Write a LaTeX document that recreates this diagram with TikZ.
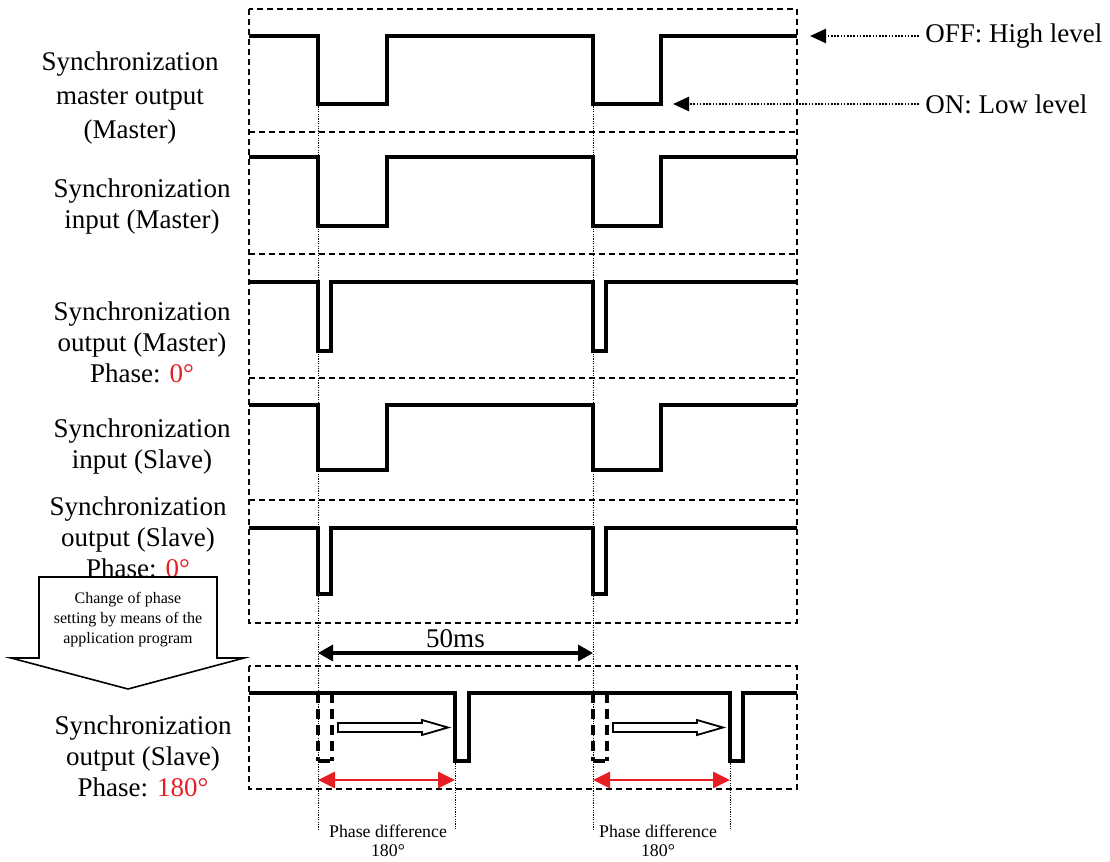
\documentclass[tikz,border=0pt]{standalone}
\usepackage{fontspec}
\setmainfont{Liberation Serif}
\usepackage{tikz}
\usetikzlibrary{positioning,arrows.meta}
\definecolor{phasered}{RGB}{230,30,36}

\begin{document}
\begin{tikzpicture}[
      x=0.5pt, y=-0.5pt,
      siglabel/.style={
        align=center,
        inner sep=0pt,
        font=\fontsize{13.5}{15.5}\selectfont
      },
      signal/.style={line width=1.6pt},
      ghost/.style={line width=1.6pt, dash pattern=on 5pt off 3pt},
      frame/.style={line width=0.9pt, dash pattern=on 3pt off 2pt},
      guide/.style={line width=0.5pt, dash pattern=on 0.6pt off 0.6pt},
      pointer/.style={line width=1.3pt, dash pattern=on 0.8pt off 0.8pt,
        -{Triangle[length=8pt,width=7pt]}},
      span/.style={line width=1.6pt,
        {Triangle[length=7.5pt,width=8pt]}-{Triangle[length=7.5pt,width=8pt]}},
      phaseshift/.style={line width=1.4pt, draw=phasered,
        {Triangle[length=8.5pt,width=8pt,fill=phasered]}-{Triangle[length=8.5pt,width=8pt,fill=phasered]}},
      hollow/.style={line width=0.9pt, fill=white},
      smalltext/.style={align=center, inner sep=0pt,
        font=\fontsize{8.9}{11}\selectfont}
    ]
    \useasboundingbox (0,0) rectangle (1110,862);
    %% Frames
    \draw[frame] (249,9) rectangle (797,623);
    \foreach \y in {132,254,378,500}
      \draw[frame] (249,\y) -- (797,\y);
    \draw[frame] (249,666) rectangle (797,789);
    %% Guides
    \foreach \x in {318,593}
      \draw[guide] (\x,104) -- (\x,829);
    \foreach \x in {455,730}
      \draw[guide] (\x,761) -- (\x,829);
    %% Signals
    \foreach \hi/\lo/\ra/\rb in {36/104/387/661, 157/226/387/661,
        282/351/331/606, 405/470/387/661, 528/594/331/606}
      \draw[signal] (249,\hi) -- (318,\hi) -- (318,\lo) -- (\ra,\lo)
        -- (\ra,\hi) -- (593,\hi) -- (593,\lo) -- (\rb,\lo) -- (\rb,\hi)
        -- (797,\hi);
    %% Shifted output
    \draw[signal] (249,693) -- (455,693) -- (455,761) -- (469,761)
      -- (469,693) -- (730,693) -- (730,761) -- (743,761) -- (743,693)
      -- (797,693);
    \foreach \x in {318,593} {
      \draw[ghost] (\x,693) -- (\x,761);
      \draw[ghost] (\x+14,693) -- (\x+14,761);
      \draw[signal] (\x,761) -- (\x+12,761);
      \draw[hollow] (\x+20,723) -- (\x+104,723) -- (\x+104,720)
        -- (\x+130,727.5) -- (\x+104,735) -- (\x+104,732)
        -- (\x+20,732) -- cycle;
    }
    %% Labels
    \node[siglabel, font=\fontsize{13.5}{17}\selectfont] (lbl-mo) at (130,98)
      {Synchronization\\master output\\(Master)};
    \node[siglabel] (lbl-mi) at (142,207) {Synchronization\\input (Master)};
    \node[siglabel] (lbl-mso) at (142,342)
      {Synchronization\\output (Master)\\Phase: \textcolor{phasered}{0°}};
    \node[siglabel] (lbl-si) at (142,447) {Synchronization\\input (Slave)};
    \node[siglabel] (lbl-so) at (138,537)
      {Synchronization\\output (Slave)\\Phase: \textcolor{phasered}{0°}};
    \node[siglabel] (lbl-sp) at (143,756)
      {Synchronization\\output (Slave)\\Phase: \textcolor{phasered}{180°}};
    %% Level pointers
    \node[siglabel, anchor=west, inner sep=3pt] (off) at (919,36) {OFF: High level};
    \node[siglabel, anchor=west, inner sep=3pt] (on) at (919,104) {ON: Low level};
    \coordinate (off-tip) at (810,36);
    \coordinate (on-tip) at (673,104);
    \draw[pointer] (off) -- (off-tip);
    \draw[pointer] (on) -- (on-tip);
    %% Period
    \coordinate (per-1) at (318,653);
    \coordinate (per-2) at (593,653);
    \draw[span] (per-1) -- node[siglabel, above, inner sep=2pt] (ms) {50ms} (per-2);
    %% Phase shift
    \coordinate (sh-1a) at (318,780);
    \coordinate (sh-1b) at (455,780);
    \coordinate (sh-2a) at (593,780);
    \coordinate (sh-2b) at (730,780);
    \draw[phaseshift] (sh-1a) -- (sh-1b);
    \draw[phaseshift] (sh-2a) -- (sh-2b);
    \node[smalltext] (diff-1) at (388,831) {Phase difference};
    \node[smalltext, below=3.5pt of diff-1] (diff-1-deg) {180°};
    \node[smalltext] (diff-2) at (658,831) {Phase difference};
    \node[smalltext, below=3.5pt of diff-2] (diff-2-deg) {180°};
    %% Setting change
    \draw[line width=0.8pt] (39,577) -- (217,577) -- (217,658) -- (244,658)
      -- (128,689) -- (11,658) -- (39,658) -- cycle;
    \node[smalltext, font=\fontsize{8}{10}\selectfont] (change) at (128,620)
      {Change of phase\\setting by means of the\\application program};
  \end{tikzpicture}
\end{document}
